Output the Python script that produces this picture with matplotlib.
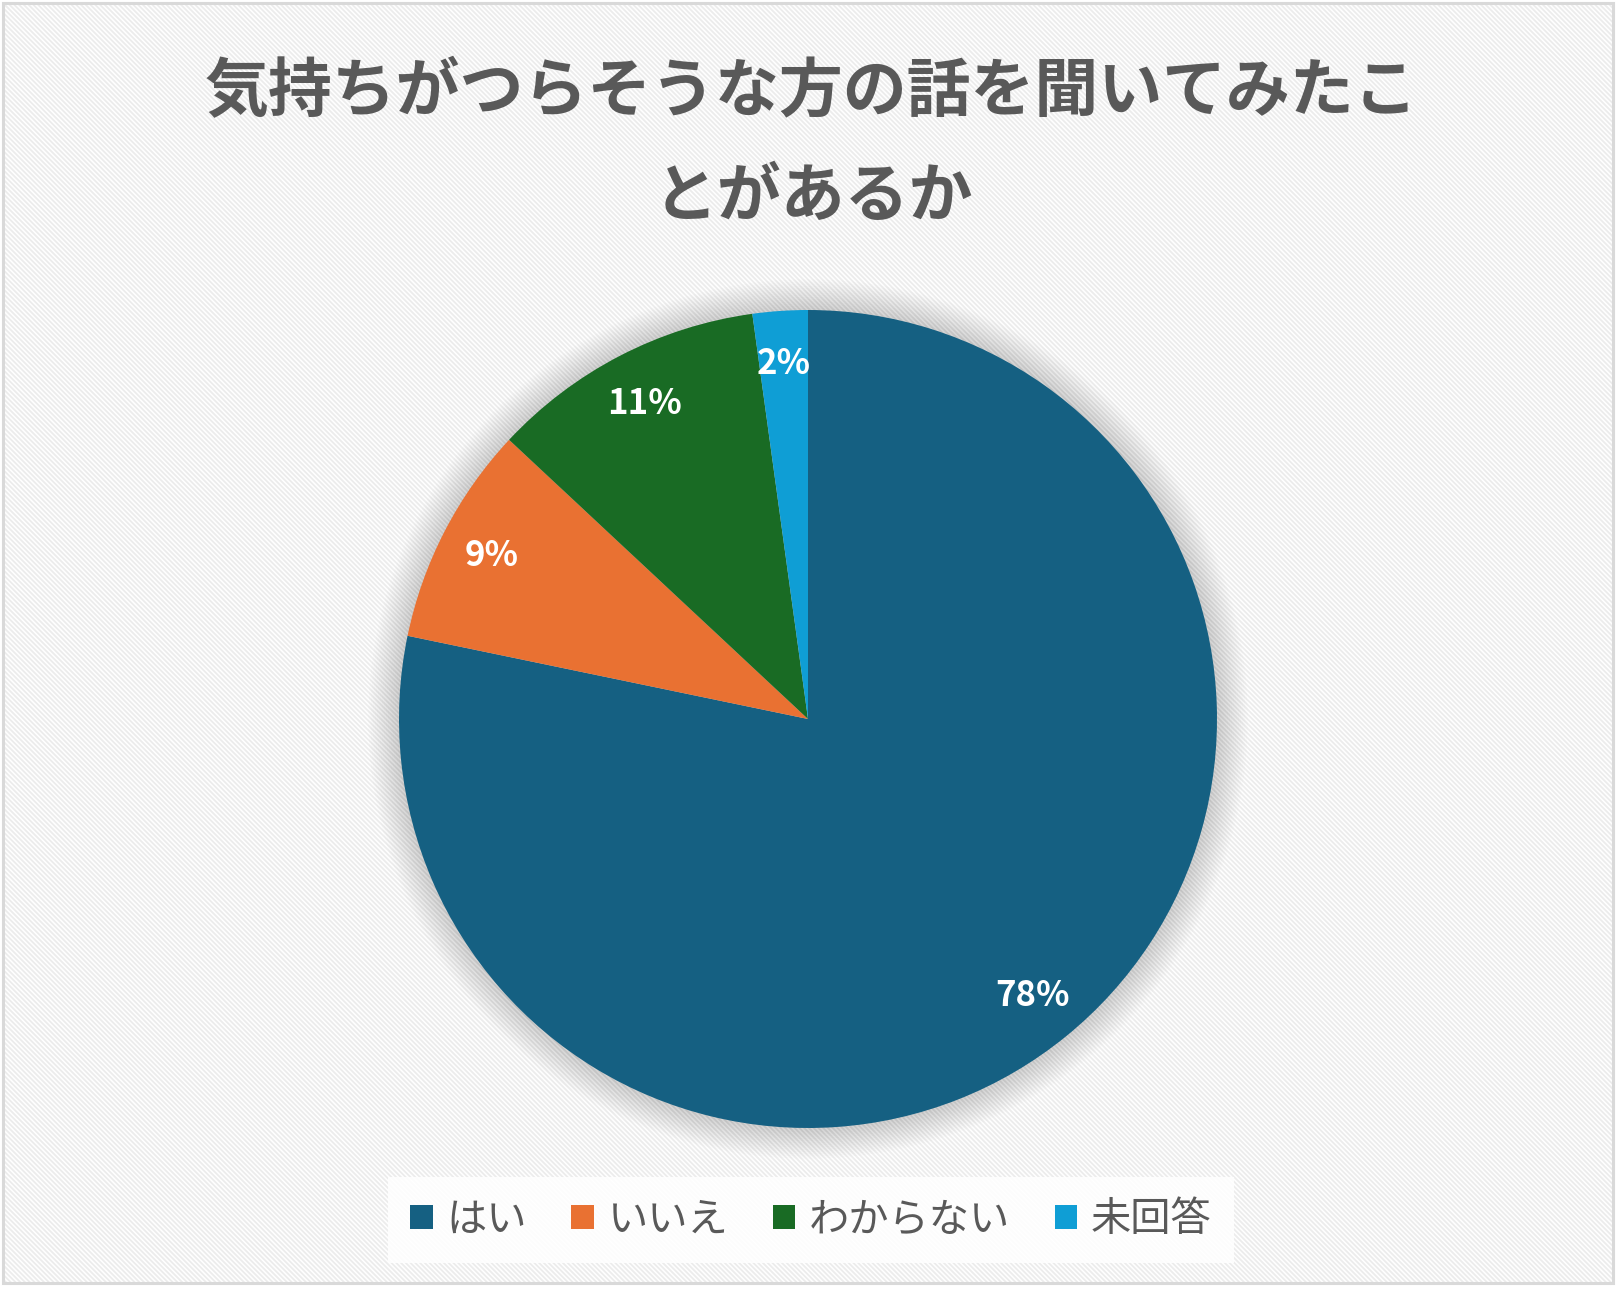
import matplotlib
matplotlib.use("Agg")
import matplotlib.pyplot as plt
from matplotlib.patches import Rectangle, Circle

plt.rcParams['font.family'] = ['Noto Sans CJK JP', 'DejaVu Sans']
plt.rcParams['hatch.linewidth'] = 1.3
plt.rcParams['hatch.color'] = '#ececec'

title_lines = ["気持ちがつらそうな方の話を聞いてみたこ", "とがあるか"]
categories = ["はい", "いいえ", "わからない", "未回答"]
counts = [36, 4, 5, 1]
colors = ["#156082", "#E97132", "#196B24", "#0F9ED5"]

W, H = 1622, 1292
fig = plt.figure(figsize=(W / 100, H / 100), dpi=100)
fig.patch.set_facecolor('white')

# background stripes + border
bg = Rectangle((3 / W, 1 - 1283 / H), (1613 - 3) / W, (1283 - 3) / H,
               transform=fig.transFigure, facecolor='white', hatch='\\' * 7,
               edgecolor='#ececec', linewidth=0, zorder=-5)
fig.patches.append(bg)
border = Rectangle((3 / W, 1 - 1283 / H), (1613 - 3) / W, (1283 - 3) / H,
                   transform=fig.transFigure, facecolor='none',
                   edgecolor='#d9d9d9', linewidth=2.2, zorder=-4)
fig.patches.append(border)

def fy(py):
    return 1 - py / H

fig.text(811 / W, fy(92), title_lines[0], ha='center', va='center',
         fontsize=46, fontweight='bold', color='#595959')
fig.text(813 / W, fy(197), title_lines[1], ha='center', va='center',
         fontsize=46, fontweight='bold', color='#595959')

# pie
cx, cy, r = 808, 719, 409
ax = fig.add_axes([(cx - r) / W, (H - cy - r) / H, 2 * r / W, 2 * r / H])
ax.patch.set_visible(False)

# soft shadow
n = 14
for i in range(n):
    rr = 1.0 + 0.075 * (n - i) / n
    ax.add_patch(Circle((0, 0), rr, facecolor='#000000', alpha=0.012,
                        linewidth=0, clip_on=False, zorder=1))

wedges, texts, autotexts = ax.pie(
    counts, colors=colors, startangle=90, counterclock=False,
    autopct='%1.0f%%', pctdistance=0.87, radius=1.0,
    wedgeprops=dict(linewidth=0))
for w in wedges:
    w.set_zorder(3)
for t in autotexts:
    t.set_color('white')
    t.set_fontsize(25)
    t.set_fontweight('bold')
    t.set_zorder(4)
ax.set_xlim(-1, 1)
ax.set_ylim(-1, 1)
ax.axis('off')

leg = fig.legend(wedges, categories, loc='center', ncol=4,
                 bbox_to_anchor=(811 / W, fy(1220)),
                 fontsize=29, frameon=True, fancybox=False,
                 handlelength=0.55, handleheight=0.55, handletextpad=0.35,
                 columnspacing=1.1, borderpad=0.55)
leg.get_frame().set_facecolor('white')
leg.get_frame().set_alpha(0.85)
leg.get_frame().set_edgecolor('none')
for t in leg.get_texts():
    t.set_color('#595959')

fig.savefig('out.png', dpi=100, facecolor='white')
